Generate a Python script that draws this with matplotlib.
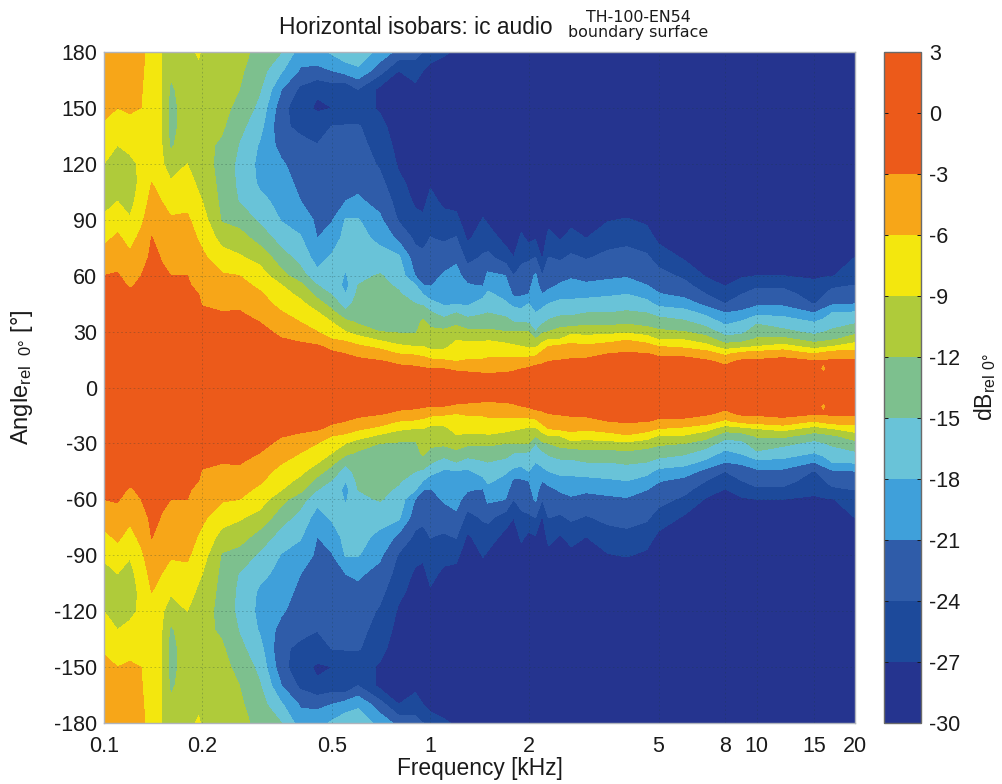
import numpy as np
import matplotlib
matplotlib.use("Agg")
import matplotlib.pyplot as plt
from matplotlib.colors import ListedColormap, BoundaryNorm
from matplotlib.ticker import FixedLocator, FixedFormatter, NullLocator

plt.rcParams['font.family'] = ['Liberation Sans', 'DejaVu Sans']
plt.rcParams['mathtext.fontset'] = 'custom'
plt.rcParams['mathtext.rm'] = 'Liberation Sans'
plt.rcParams['mathtext.default'] = 'rm'
plt.rcParams['axes.unicode_minus'] = False

# upper half of the plot (lower half is close to a mirror)
angle_deg = [0, 10, 14, 18, 22, 26, 30, 35, 40, 45, 50, 55, 60, 70, 80, 90, 100, 110, 120, 130, 140, 150, 160, 170, 180]
freq_khz = [0.1, 0.11, 0.12, 0.13, 0.14, 0.15, 0.16, 0.18, 0.195, 0.2, 0.23, 0.26, 0.3, 0.35, 0.4, 0.45, 0.5, 0.55, 0.6, 0.7,
            0.8, 0.9, 0.95, 1, 1.1, 1.2, 1.3, 1.45, 1.5, 1.7, 1.8, 1.9, 2, 2.1, 2.2, 2.3, 2.5, 2.7, 3, 3.5, 4, 4.6, 5, 6, 7, 8,
            9, 10, 12, 15, 16, 17, 20]
# one list per frequency, one value per angle, tails that stay at -30 are left off
db_rows = [
    [0, -.3, -.5, -.7, -.9, -1.2, -1.5, -1.7, -2, -2.2, -2.5, -2.7, -3, -4.8, -6.6, -8.6, -9.8, -10, -9, -7.6, -6.2, -5.6, -5.2, -4.8, -4.5],
    [0, -.3, -.5, -.7, -.9, -1.2, -1.4, -1.6, -1.9, -2.1, -2.3, -2.5, -2.8, -3.9, -5.5, -7.2, -9, -10, -10, -9, -7.5, -6, -5.4, -5, -4.7],
    [0, -.3, -.6, -.8, -1, -1.3, -1.6, -1.9, -2.2, -2.5, -2.7, -3.2, -3.9, -5.4, -7, -8.8, -9.8, -10.3, -9.7, -8.3, -6.9, -5.6, -5.2, -4.9, -4.6],
    [0, -.2, -.4, -.6, -.8, -1, -1.2, -1.5, -1.8, -2.1, -2.4, -2.7, -3, -4.1, -5.2, -6.7, -7.8, -8.3, -8.5, -7.8, -7, -6, -5.8, -5.6, -5.5],
    [0, -.2, -.3, -.4, -.5, -.7, -.9, -1.1, -1.3, -1.5, -1.7, -1.9, -2.1, -2.5, -2.9, -3.8, -4.9, -6, -7, -7.7, -8, -8, -7.8, -7.3, -7],
    [0, -.2, -.3, -.5, -.6, -.8, -1, -1.2, -1.5, -1.8, -2.1, -2.4, -2.7, -3.1, -4.1, -5, -6, -7.5, -8.5, -8.8, -9, -9, -9, -9, -9],
    [0, -.2, -.4, -.6, -.8, -1, -1.2, -1.5, -1.8, -2.1, -2.4, -2.7, -3, -3.9, -4.8, -5.7, -7.1, -8.7, -10.6, -12.5, -13, -13, -12.5, -11.5, -10.5],
    [0, -.2, -.4, -.6, -.8, -1, -1.2, -1.5, -1.8, -2.1, -2.4, -2.7, -3, -3.9, -4.8, -5.6, -6.7, -7.8, -9, -10, -10.5, -10.5, -10.5, -10.2, -10],
    [0, -.4, -.6, -.9, -1.2, -1.5, -1.8, -2.1, -2.4, -2.8, -3, -3.7, -4.2, -5.2, -6.2, -7.2, -8.5, -9.6, -10.5, -11, -11, -10.8, -10.3, -9.6, -8.6],
    [0, -.4, -.7, -1, -1.3, -1.7, -2, -2.4, -2.7, -3.1, -3.6, -4.1, -4.6, -5.5, -6.7, -7.8, -9, -10, -10.8, -11.2, -11.3, -11, -10.5, -10, -9.5],
    [0, -.5, -.8, -1.2, -1.6, -1.9, -2.2, -2.6, -2.9, -3.6, -4.3, -5, -5.7, -7.7, -10.1, -12.3, -12.8, -13, -13, -12.5, -11.6, -11, -10.8, -10.7, -10.5],
    [0, -.4, -.8, -1.1, -1.5, -1.9, -2.2, -2.5, -2.8, -3.5, -4.3, -5.2, -6, -8.7, -10.7, -13.2, -15.2, -15.7, -15.8, -15.2, -14.2, -13, -12, -11.5, -11],
    [0, -.5, -.8, -1.1, -1.5, -1.9, -2.3, -3, -4, -4.9, -5.6, -6.6, -7.6, -10.1, -13.2, -15.5, -17.2, -18.5, -18.8, -18.3, -17, -15.8, -14.7, -13.8, -13],
    [0, -1.1, -1.5, -2, -2.4, -2.9, -3.6, -4.7, -5.8, -6.9, -7.9, -9, -11.1, -13.8, -16.3, -18.2, -19, -19.8, -20.6, -22.2, -23.6, -23, -21, -17.7, -15],
    [0, -1.2, -1.7, -2.2, -2.6, -3.3, -4.5, -6, -7.2, -8.3, -9.7, -11.3, -13.8, -16.2, -17.7, -19.3, -21, -21.8, -22.6, -23.4, -24.5, -26, -24.7, -21.4, -19.5],
    [0, -1.2, -1.7, -2.2, -2.7, -4, -6, -7.4, -8.7, -10.7, -12.9, -15, -17.1, -19.3, -21, -21.6, -22.2, -22.7, -23.3, -23.9, -25.5, -27.4, -26.6, -21.6, -19.5],
    [0, -1.4, -2, -2.6, -3.6, -6, -7.3, -9, -11.1, -13.5, -15.2, -15.8, -16.4, -17.6, -19.5, -21.2, -21.7, -22.3, -22.8, -23.4, -23.9, -27, -25.7, -21, -17.5],
    [0, -1.7, -2.3, -3, -4.7, -6.6, -9, -11.1, -14.3, -16.3, -18, -19, -18.3, -17, -17, -17.8, -21, -21.7, -22.4, -23.1, -23.7, -27, -26.5, -19.7, -16],
    [0, -1.8, -2.5, -3.5, -5.5, -7.8, -10.5, -12.4, -13, -13.7, -14.3, -15, -15.5, -16.2, -17, -17.8, -20.6, -21.7, -22.4, -23, -23.7, -26, -24, -18.6, -16],
    [0, -2, -2.8, -4.5, -6.8, -9.6, -12, -12.5, -13, -13.4, -13.9, -14.4, -14.8, -16.8, -18.8, -20.5, -21.9, -23.2, -24.4, -25.3, -26.2, -27.3, -27.8, -22.8, -19],
    [0, -2.3, -3.6, -6, -8.4, -10.8, -12.3, -12.9, -13.5, -14, -14.7, -15.4, -16.1, -17.6, -21.7, -24.3, -25.3, -26.4, -27.4, -28, -28.5, -28.5, -28.2, -27, -22],
    [0, -2.5, -3.9, -6.4, -9, -11, -12.4, -13.2, -14.1, -15, -16.5, -18, -21.2, -22.9, -24.6, -26.2, -27.5, -28, -28.5, -29, -29, -28.8, -27.8, -25.6, -23],
    [0, -2.7, -4.4, -6.9, -9, -9.8, -10.5, -11.4, -13.2, -15.6, -18, -21, -22, -23.3, -25, -26.5, -27.8, -28.5, -29, -29.5, -29.5, -29, -28.5, -27, -24],
    [0, -3, -5, -8, -9.6, -10.5, -11.4, -12.8, -14.6, -17, -19.5, -21.2, -21.8, -22.8, -23.9, -25, -26.1, -27.4, -28.5, -29, -29.5, -29.5, -29, -28, -25.5],
    [0, -3, -5.5, -8, -9.6, -10.5, -11.5, -13.5, -16.5, -18.4, -19.2, -20, -20.7, -22.3, -24.4, -26, -27.7, -29, -29.5, -30, -30, -30, -29.5, -28.7, -26.5],
    [0, -3.4, -6, -7, -8.1, -9.2, -10.7, -12.7, -15, -18.3, -19, -19.5, -20.1, -21.6, -23.8, -26.2, -28, -29, -29.5, -30, -30, -30, -29.5, -29, -27.5],
    [0, -3.6, -5.7, -7, -8.1, -9.5, -11.5, -13.7, -16.2, -18.5, -19.6, -20.8, -22.2, -25.1, -27.5, -29],
    [0, -3.9, -5.6, -6.9, -8.1, -9.5, -11.5, -13.5, -15.3, -16.8, -18.8, -21.3, -22.1, -23.7, -25.3, -26.8, -28.5],
    [0, -3.9, -5.4, -6.7, -7.9, -9.3, -11.5, -13.3, -15, -16.3, -17.5, -18.9, -20.4, -23.4, -25.5, -27.5, -29],
    [0, -3.8, -5.3, -6.8, -8.2, -10, -12, -13.9, -15.8, -17.6, -19, -20, -21, -25.5, -28, -29.5],
    [0, -3.4, -5.1, -6.9, -8.6, -10.3, -12, -15, -16.7, -18.8, -21.5, -22.8, -24, -27, -29],
    [0, -3, -4.9, -6.8, -9, -10.5, -12, -15.1, -17, -19.2, -21.4, -22.2, -23, -24.7, -26.3, -28.5],
    [0, -2.7, -4.6, -7, -9.3, -10.7, -12, -15.3, -16.6, -18, -21, -21.8, -22.6, -24.4, -27.8, -29.5],
    [0, -2.3, -3.8, -6.8, -9.6, -12, -15, -16.5, -18, -18.6, -19.2, -19.9, -20.5, -24, -27.2, -29],
    [0, -2.3, -3.4, -5.1, -7.5, -10.2, -12.6, -15.6, -17.1, -18.9, -21, -22.5, -24, -27.4, -29],
    [0, -2.1, -3, -4.5, -6, -9.3, -12, -14.5, -16.3, -18, -20.1, -21.8, -22.4, -24, -26, -28],
    [0, -2, -2.8, -4, -5.3, -9, -11, -13.5, -15.7, -17.3, -19, -20.7, -22, -24.5, -27.3, -29.5],
    [0, -1.9, -2.6, -3.7, -5.3, -7, -10.2, -13.5, -15.7, -17.3, -18.8, -20.2, -21.4, -23.6, -25.8, -28],
    [0, -1.8, -2.5, -3.7, -5.5, -7.8, -10.2, -12.9, -15, -16.9, -18.8, -20.6, -22, -24.3, -27, -29],
    [0, -1.7, -2.3, -3, -5, -7, -10.2, -13, -15, -16.7, -18.4, -20.3, -21.5, -23.3, -25.2, -27.2, -29],
    [0, -1.5, -2.1, -2.7, -4, -6.4, -9.7, -12.6, -14.6, -16.3, -18, -19.8, -21.3, -23, -24.8, -26.8, -29],
    [0, -1.6, -2.3, -2.9, -4.9, -7.4, -10.7, -13.1, -15, -17.1, -19.1, -21, -21.9, -23.6, -25.6, -27.6, -29.5],
    [0, -1.7, -2.4, -3.3, -6, -9.3, -11.5, -13.7, -16, -18.9, -20.8, -22, -23, -25.3, -27.7, -29.5],
    [0, -1.7, -2.4, -3.4, -6.7, -9.3, -12, -14.5, -16.8, -19.7, -21.8, -23.2, -24.6, -27.5, -29],
    [0, -1.9, -2.6, -4.5, -8, -10.8, -13.5, -16.3, -18.8, -21.9, -24, -25.8, -27.3, -28.5],
    [0, -2.3, -3.7, -6.6, -10.5, -14, -16.4, -18.7, -21, -24, -25.7, -27.2, -28, -29],
    [0, -1.8, -2.5, -4.8, -9.9, -13.5, -15.8, -17.6, -20.4, -22.7, -24, -25.9, -27.3, -28.5],
    [0, -1.8, -2.5, -4.5, -9, -11.7, -13.4, -15.4, -18.9, -21.7, -23, -24.5, -27, -28.5],
    [0, -1.7, -2.4, -3.6, -8, -11.3, -14.3, -16.5, -18.9, -21.7, -23, -24.5, -27, -28.5],
    [0, -1.9, -2.7, -6, -10.2, -13.5, -15.9, -18, -21, -24.2, -25.3, -26.4, -27.4, -28.5],
    [0, -3.6, -2.8, -5, -9.6, -13, -15.2, -17.2, -19.5, -22.8, -24.2, -25.5, -27.3, -28.5],
    [0, -1.8, -2.5, -4.3, -9, -12.5, -14.5, -16.3, -18, -21.5, -23, -24.6, -27.2, -28.5],
    [0, -1.8, -2.5, -4.3, -7.5, -10.5, -13, -15.4, -17.6, -21.1, -22.5, -24, -25, -27, -29],
]

level_db = [-30, -27, -24, -21, -18, -15, -12, -9, -6, -3, 0, 3]
band_colors = ['#25348f', '#1d4a9b', '#2f5ca9', '#3fa0da', '#69c3d8', '#7dc08e', '#afcb3a', '#f3e70e', '#f7a618', '#ec5a1a', '#ec5a1a']
x_ticks = [0.1, 0.2, 0.5, 1, 2, 5, 8, 10, 15, 20]
x_labels = ['0.1', '0.2', '0.5', '1', '2', '5', '8', '10', '15', '20']
y_ticks = list(range(-180, 181, 30))

W, H = 1003, 784


def main():
    upper = np.array([r + [-30] * (len(angle_deg) - len(r)) for r in db_rows], dtype=float).T
    angles = np.array(angle_deg, dtype=float)
    ang = np.concatenate([-angles[:0:-1], angles])
    z = np.vstack([upper[:0:-1], upper])

    fig = plt.figure(figsize=(W / 100, H / 100), dpi=100)
    ax = fig.add_axes([104 / W, 1 - 723 / H, 751 / W, 671 / H])
    cax = fig.add_axes([884 / W, 1 - 723 / H, 37 / W, 671 / H])

    cmap = ListedColormap(band_colors)
    norm = BoundaryNorm(level_db, cmap.N)
    cs = ax.contourf(freq_khz, ang, z, levels=level_db, cmap=cmap, norm=norm)

    ax.set_xscale('log')
    ax.set_xlim(0.1, 20)
    ax.set_ylim(-180, 180)
    ax.xaxis.set_major_locator(FixedLocator(x_ticks))
    ax.xaxis.set_major_formatter(FixedFormatter(x_labels))
    ax.xaxis.set_minor_locator(NullLocator())
    ax.set_yticks(y_ticks)
    ax.tick_params(length=0, labelsize=15.5, colors='#1a1a1a')
    ax.tick_params(axis='x', pad=9)
    ax.tick_params(axis='y', pad=5)
    ax.grid(True, color='#1a3a3a', linestyle=(0, (2, 3)), linewidth=0.6, alpha=0.3)
    for s in ax.spines.values():
        s.set_color('#b0b4bc')
        s.set_linewidth(1)

    ax.set_xlabel('Frequency [kHz]', fontsize=16.4, color='#1a1a1a')
    ax.xaxis.set_label_coords(0.5, -(769 - 723) / 671, transform=ax.transAxes)
    ax.xaxis.label.set_va('center')
    ax.set_ylabel('Angle$_{rel\\ \\ 0°}$ [°]', fontsize=17, color='#1a1a1a')
    ax.yaxis.set_label_coords((22 - 104) / 751, (723 - 377) / 671)
    ax.yaxis.label.set_va('center')

    cb = fig.colorbar(cs, cax=cax, ticks=level_db, spacing='uniform')
    cb.ax.tick_params(length=3, width=0.7, direction='in', left=True, right=True, labelsize=15.5, pad=6, colors='#1a1a1a')
    cb.outline.set_edgecolor('#6a6a6a')
    cb.outline.set_linewidth(1)
    cb.set_label('dB$_{rel\\ 0°}$', fontsize=16.5, color='#1a1a1a')
    cb.ax.yaxis.set_label_coords((985 - 884) / 37, 0.5)
    cb.ax.yaxis.label.set_va('center')

    fig.text(416 / W, 1 - 28 / H, 'Horizontal isobars: ic audio', ha='center', va='center', fontsize=16.4, color='#1a1a1a')
    fig.text(638 / W, 1 - 25 / H, 'TH-100-EN54\nboundary surface', ha='center', va='center', fontsize=11.4,
             family='DejaVu Sans', linespacing=1.05, color='#1a1a1a')

    fig.savefig('out.png', dpi=100)


if __name__ == "__main__":
    main()
